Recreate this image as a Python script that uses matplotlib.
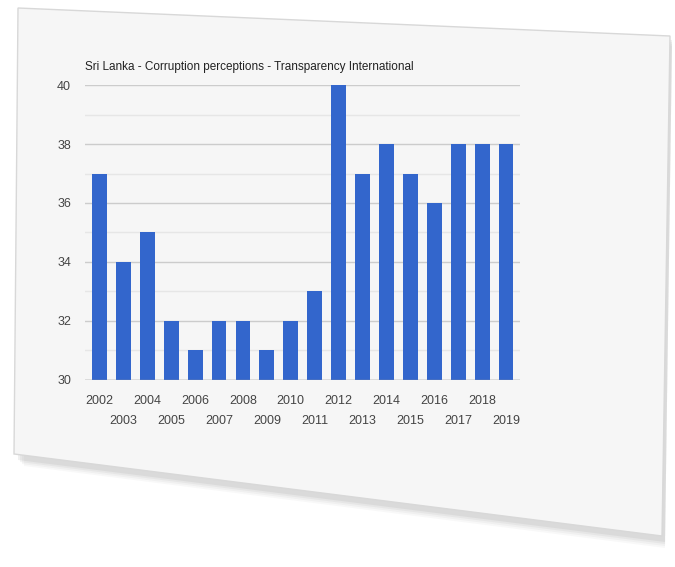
import matplotlib.pyplot as plt
from matplotlib.patches import Polygon

# data
years = ["2002", "2003", "2004", "2005", "2006", "2007", "2008", "2009", "2010",
         "2011", "2012", "2013", "2014", "2015", "2016", "2017", "2018", "2019"]
scores = [37, 34, 35, 32, 31, 32, 32, 31, 32, 33, 40, 37, 38, 37, 36, 38, 38, 38]
y_ticks = [30, 32, 34, 36, 38, 40]
title = "Sri Lanka - Corruption perceptions - Transparency International"

plt.rcParams['font.family'] = ['Liberation Sans', 'DejaVu Sans']

fig = plt.figure(figsize=(6.75, 5.67), dpi=100)
fig.patch.set_facecolor("white")

# card with a soft shadow
bg = fig.add_axes([0, 0, 1, 1])
bg.set_xlim(0, 675)
bg.set_ylim(567, 0)
bg.axis("off")
for i, a in enumerate([0.05, 0.07, 0.09, 0.12]):
    off = 8 - 2 * i
    bg.add_patch(Polygon([(18 + off, 10 + off), (672, 38 + off), (665, 540 + off), (16 + off, 458 + off)],
                         closed=True, facecolor="#888888", alpha=a, edgecolor="none"))
bg.add_patch(Polygon([(18, 8), (670, 36), (662, 536), (14, 454)], closed=True,
                     facecolor="#f6f6f6", edgecolor="#d8d8d8", linewidth=1))

ax = fig.add_axes([0.126, 0.33, 0.645, 0.52])
ax.set_facecolor("none")
x = range(len(years))
ax.bar(x, [s - 30 for s in scores], bottom=30, width=0.62, color="#3366cc", zorder=3)

ax.set_ylim(30, 40)
ax.set_xlim(-0.6, len(years) - 0.4)
ax.set_yticks(y_ticks)
ax.set_yticks([31, 33, 35, 37, 39], minor=True)
ax.yaxis.grid(True, which="major", color="#cccccc", linewidth=1, zorder=0)
ax.yaxis.grid(True, which="minor", color="#e6e6e6", linewidth=1, zorder=0)
ax.tick_params(axis="y", which="both", length=0, labelsize=9, labelcolor="#444444", pad=10)
for s in ax.spines.values():
    s.set_visible(False)
ax.axhline(30, color="#999999", linewidth=1, zorder=4)

ax.set_xticks(list(x))
ax.set_xticklabels([])
ax.tick_params(axis="x", length=0)
for i, yr in enumerate(years):
    dy = -0.05 if i % 2 == 0 else -0.12
    ax.text(i, dy, yr, transform=ax.get_xaxis_transform(), ha="center", va="top",
            fontsize=9, color="#444444")

ax.text(0, 1.04, title, transform=ax.transAxes, ha="left", va="bottom",
        fontsize=8.5, color="#222222")

fig.savefig("out.png", dpi=100, facecolor="white")
